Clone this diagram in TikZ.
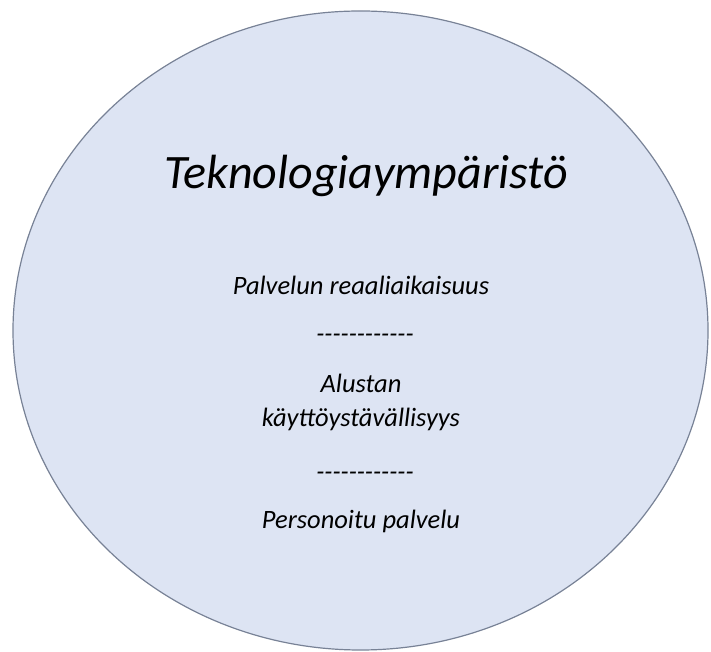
\documentclass[tikz,border=0pt]{standalone}
\usepackage{fontspec}
\setmainfont{Carlito}
\usetikzlibrary{shapes.geometric}
\definecolor{envfill}{RGB}{221,228,243}
\definecolor{envline}{RGB}{120,130,150}
\newcommand{\hyphrow}{-\kern0pt-\kern0pt-\kern0pt-\kern0pt-\kern0pt-\kern0pt-\kern0pt-\kern0pt-\kern0pt-\kern0pt-\kern0pt-}
\begin{document}
\begin{tikzpicture}[x=1pt,y=1pt,
  lbl/.style={font=\itshape\fontsize{26.5}{30}\selectfont, anchor=base, inner sep=0pt},
  ttl/.style={font=\itshape\fontsize{48}{56}\selectfont, anchor=base, inner sep=0pt}]
\useasboundingbox (0,0) rectangle (711,652);
\node[draw=envline, line width=1.2pt, fill=envfill, ellipse, minimum width=695, minimum height=639, inner sep=0pt] (env) at (360.5,321.5) {};
\node[ttl] (title) at (366,463) {Teknologiaympäristö};
\node[lbl] (p1) at (361,357) {Palvelun reaaliaikaisuus};
\node[lbl] (d1) at (365,309) {\hyphrow};
\node[lbl] (p2a) at (361,259) {Alustan};
\node[lbl] (p2b) at (361,225) {käyttöystävällisyys};
\node[lbl] (d2) at (365,171) {\hyphrow};
\node[lbl] (p3) at (361,123) {Personoitu palvelu};
\end{tikzpicture}
\end{document}
